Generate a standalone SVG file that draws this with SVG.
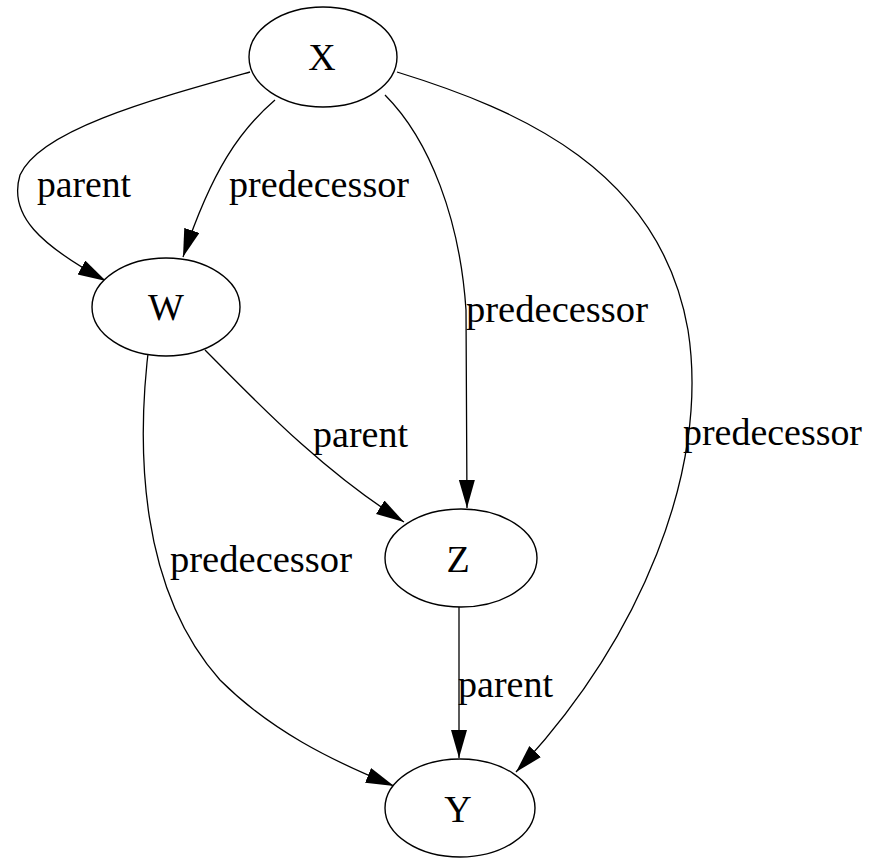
<svg xmlns="http://www.w3.org/2000/svg" width="881" height="861" viewBox="0 0 881 861">
<style>
.node ellipse{fill:#fff;stroke:#000;stroke-width:1.4}
.node text{font-family:"Liberation Serif","Times New Roman",serif;font-size:38px;text-anchor:middle;fill:#000}
.edges path{fill:none;stroke:#000;stroke-width:1.3;marker-end:url(#ah)}
.lbl{font-family:"Liberation Serif","Times New Roman",serif;font-size:38px;fill:#000}
</style>
<defs>
<marker id="ah" markerUnits="userSpaceOnUse" markerWidth="29" markerHeight="17" refX="28" refY="8" orient="auto">
<path d="M0,0 L28,8 L0,16 z" fill="#000"/>
</marker>
</defs>
<rect width="881" height="861" fill="#fff"/>
<g id="edges" class="edges">
<path d="M250,72 C150,100 40,130 20,175 C8,215 40,245 106,281"/>
<path d="M275,100 C240,130 212,170 183,257"/>
<path d="M385,95 C430,140 460,220 466,310 L467,508"/>
<path d="M397,72 C520,110 660,170 688,330 C710,470 640,640 516,772"/>
<path d="M205,350 C250,395 320,470 404,522"/>
<path d="M150,337 C135,450 140,590 220,680 C270,730 330,760 394,786"/>
<path d="M459,607 L459,758"/>
</g>
<g id="edge-labels">
<text class="lbl" x="37" y="197" textLength="94" lengthAdjust="spacingAndGlyphs">parent</text>
<text class="lbl" x="229" y="197" textLength="180" lengthAdjust="spacingAndGlyphs">predecessor</text>
<text class="lbl" x="466" y="322" textLength="182" lengthAdjust="spacingAndGlyphs">predecessor</text>
<text class="lbl" x="683" y="445" textLength="179" lengthAdjust="spacingAndGlyphs">predecessor</text>
<text class="lbl" x="313" y="447" textLength="95" lengthAdjust="spacingAndGlyphs">parent</text>
<text class="lbl" x="170" y="572" textLength="182" lengthAdjust="spacingAndGlyphs">predecessor</text>
<text class="lbl" x="458" y="697" textLength="95" lengthAdjust="spacingAndGlyphs">parent</text>
</g>
<g id="node-X" class="node"><ellipse cx="323" cy="57" rx="74" ry="50"/><text x="322" y="70">X</text></g>
<g id="node-W" class="node"><ellipse cx="166" cy="307" rx="74" ry="49"/><text x="166" y="320">W</text></g>
<g id="node-Z" class="node"><ellipse cx="461" cy="558" rx="76" ry="49"/><text x="458" y="572">Z</text></g>
<g id="node-Y" class="node"><ellipse cx="460" cy="808" rx="75" ry="49"/><text x="458" y="822">Y</text></g>
</svg>
